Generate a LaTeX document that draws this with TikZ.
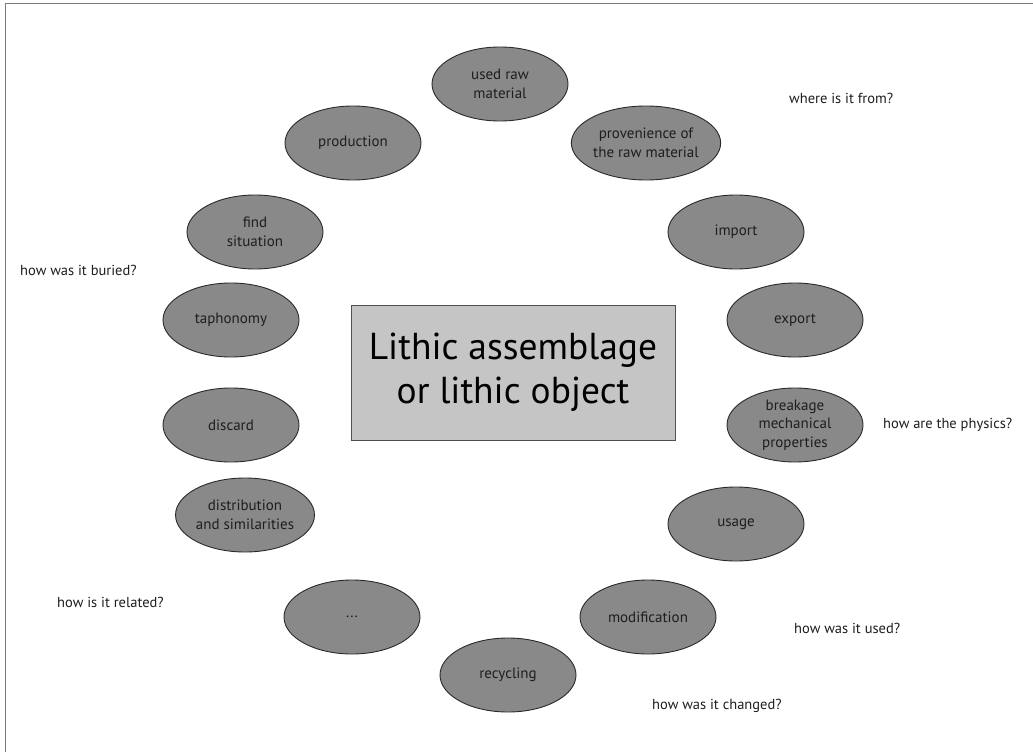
\documentclass[tikz,border=0pt]{standalone}
\usepackage{fontspec}
\setmainfont{PT Sans}
\usetikzlibrary{shapes.geometric}
\definecolor{ellfill}{HTML}{898989}
\definecolor{ellline}{HTML}{2A2A2A}
\definecolor{boxfill}{HTML}{C4C5C4}
\definecolor{boxline}{HTML}{505050}
\definecolor{txt}{HTML}{1E1E1E}
\definecolor{frame}{HTML}{7A7A7A}
\tikzset{
  topic/.style={ellipse, draw=ellline, line width=0.9pt, fill=ellfill, minimum width=136pt, minimum height=74pt, inner sep=0pt, align=center, text=txt, font=\fontsize{15}{18.5}\selectfont},
  question/.style={anchor=west, inner sep=0pt, text=txt, font=\fontsize{14.5}{17}\selectfont},
  centerbox/.style={draw=boxline, line width=1pt, fill=boxfill, minimum width=324pt, minimum height=135pt, inner sep=0pt, align=center, text=black, font=\fontsize{37.5}{44}\selectfont}
}
\begin{document}
\begin{tikzpicture}[x=1pt,y=-1pt]
\useasboundingbox (0,0) rectangle (1033,752);
\fill[white] (0,0) rectangle (1033,752);
\coordinate (tl) at (5.5,3.5);
\coordinate (tr) at (1033,3.5);
\coordinate (bl) at (5.5,752);
\draw[frame, line width=1.2pt] (tr) -- (tl) -- (bl);

\node[centerbox] (core) at (513,372.5) {Lithic assemblage\\or lithic object};

\node[topic] (raw) at (500,84) {used raw\\material};
\node[topic] (prov) at (646,143) {provenience of\\the raw material};
\node[topic] (prod) at (353,143) {production};
\node[topic] (find) at (255,232) {find\\situation};
\node[topic] (imp) at (736,232) {import};
\node[topic] (taph) at (231,320) {taphonomy};
\node[topic] (exp) at (795,320) {export};
\node[topic] (disc) at (231,425) {discard};
\node[topic] (break) at (795,425) {breakage\\mechanical\\properties};
\node[topic] (dist) at (245,515) {distribution\\and similarities};
\node[topic] (use) at (736,524) {usage};
\node[topic] (dots) at (352,617) {...};
\node[topic] (mod) at (648,617) {modification};
\node[topic] (rec) at (508,675) {recycling};

\node[question] (q1) at (789,98) {where is it from?};
\node[question] (q2) at (20,270) {how was it buried?};
\node[question] (q3) at (883,425) {how are the physics?};
\node[question] (q4) at (57,602) {how is it related?};
\node[question] (q5) at (794,628) {how was it used?};
\node[question] (q6) at (652,706) {how was it changed?};
\end{tikzpicture}
\end{document}
